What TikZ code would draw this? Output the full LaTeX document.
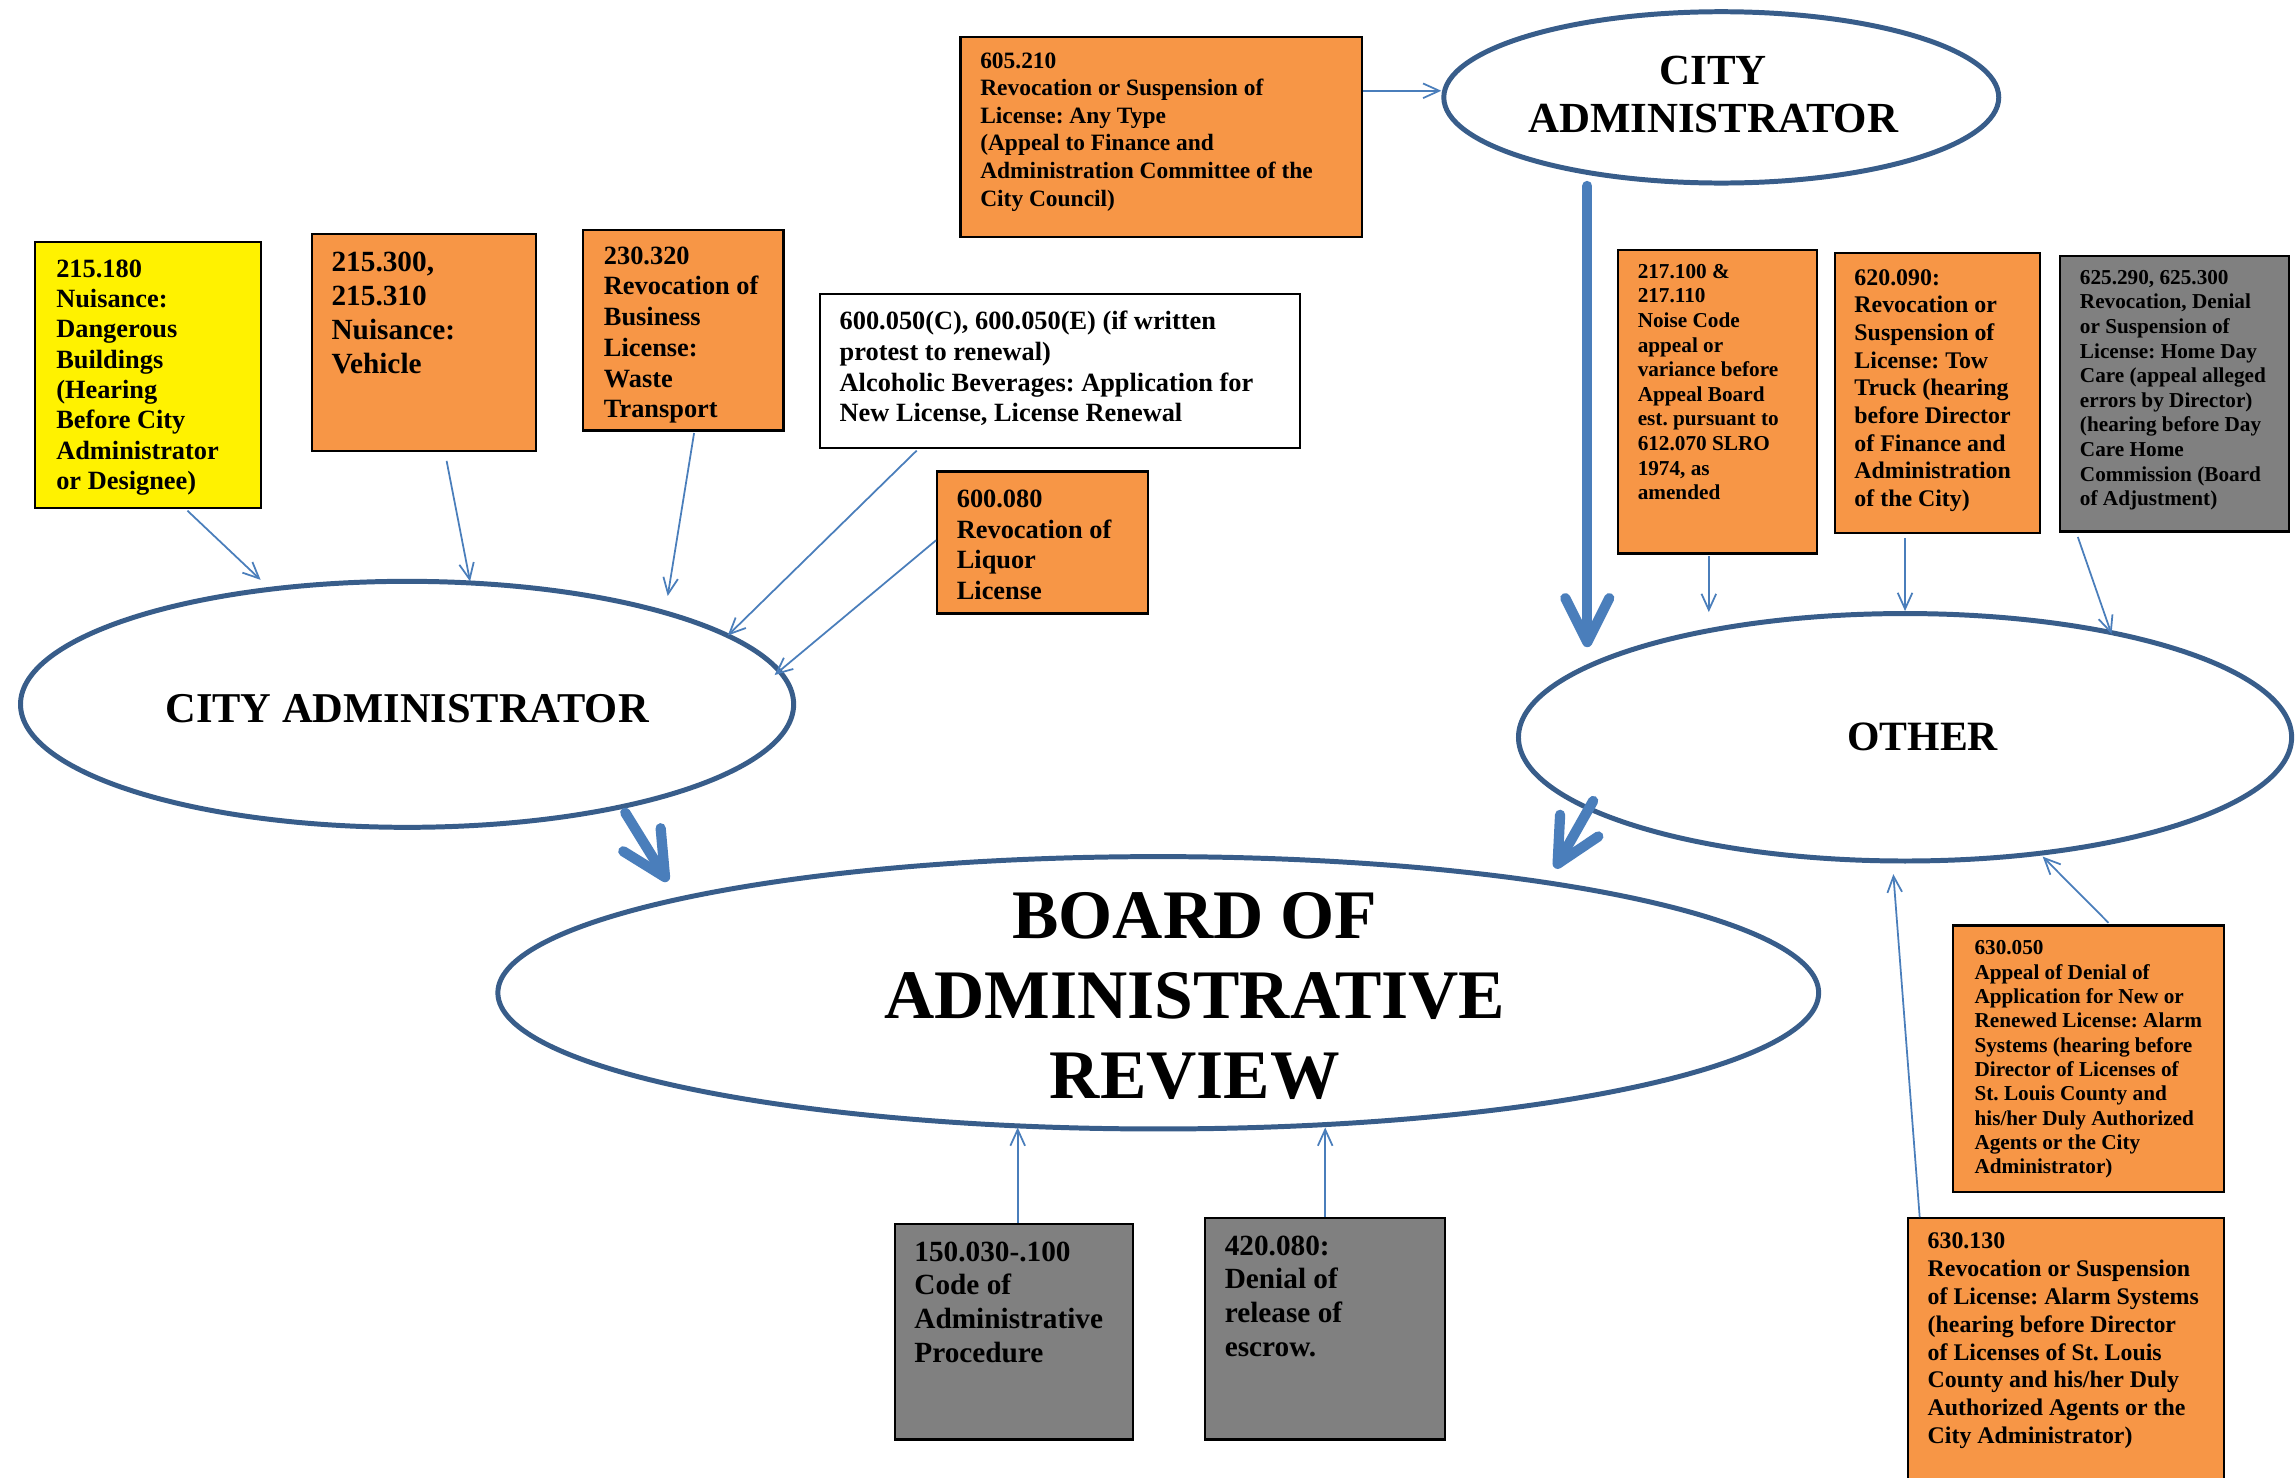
\documentclass[tikz,border=0pt]{standalone}
\usepackage{fontspec}
\setmainfont{Liberation Serif}
\usetikzlibrary{shapes.geometric,arrows.meta}
\definecolor{ellblue}{HTML}{385D8A}
\definecolor{arrblue}{HTML}{4A7EBB}
\definecolor{orangefill}{HTML}{F79646}
\definecolor{grayfill}{HTML}{808080}
\newcommand\myfs[2]{\fontsize{#1}{#2}\selectfont\bfseries\frenchspacing}
\begin{document}
\frenchspacing
\begin{tikzpicture}[x=1pt,y=-1pt,
  box/.style={draw=black,line width=1.5pt,inner sep=0pt,rectangle},
  txt/.style={anchor=north west,inner sep=0pt,align=left},
  ctxt/.style={anchor=center,inner sep=0pt,align=center},
  ell/.style={ellipse,draw=ellblue,line width=3.4pt,fill=white,inner sep=0pt},
  thinarr/.style={draw=arrblue,line width=1.2pt,-{Straight Barb[length=11pt,width=10pt]}},
  thickarr/.style={draw=arrblue,line width=7pt,line cap=round,-{Straight Barb[length=30pt,width=30pt,round]}}]
\useasboundingbox[fill=white] (0,0) rectangle (1568,1009);

% ellipses
\node[ell,minimum width=528pt,minimum height=168pt] (ca) at (278,481) {};
\node[ctxt,font=\myfs{29}{33}] (cat0) at ([shift={(0,3)}]ca.center) {CITY ADMINISTRATOR};
\node[ell,minimum width=379pt,minimum height=117pt] (cat) at (1175.5,66.5) {};
\node[ctxt,font=\myfs{29.3}{33}] (catt) at ([shift={(-5.5,-2)}]cat.center) {CITY\\ADMINISTRATOR};
\node[ell,minimum width=528pt,minimum height=169pt] (oth) at (1301,503.5) {};
\node[ctxt,font=\myfs{28.5}{33}] (otht) at ([shift={(12,0)}]oth.center) {OTHER};
\node[ell,minimum width=902pt,minimum height=186pt] (bar) at (791,678) {};
\node[ctxt,font=\myfs{47.5}{54.5}] (bart) at ([shift={(25,2)}]bar.center) {BOARD OF\\ADMINISTRATIVE\\REVIEW};

% boxes
\node[box,fill=yellow,minimum width=154pt,minimum height=182pt] (b1) at (101,256) {};
\node[txt,font=\myfs{18}{20.7}] (b1t) at ([shift={(15,13)}]b1.north west) {215.180\\Nuisance:\\Dangerous\\Buildings\\(Hearing\\Before City\\Administrator\\or Designee)};

\node[box,fill=orangefill,minimum width=153pt,minimum height=148pt] (b2) at (289.5,234) {};
\node[txt,font=\myfs{20}{23}] (b2t) at ([shift={(14,13)}]b2.north west) {215.300,\\215.310\\Nuisance:\\Vehicle};

\node[box,fill=orangefill,minimum width=137pt,minimum height=137pt] (b3) at (466.5,225.5) {};
\node[txt,font=\myfs{18}{21}] (b3t) at ([shift={(15,12)}]b3.north west) {230.320\\Revocation of\\Business\\License:\\Waste\\Transport};

\node[box,fill=white,minimum width=328pt,minimum height=105pt] (b4) at (724,253.5) {};
\node[txt,font=\myfs{18}{21}] (b4t) at ([shift={(14,12)}]b4.north west) {600.050(C), 600.050(E) (if written\\protest to renewal)\\Alcoholic Beverages: Application for\\New License, License Renewal};

\node[box,fill=orangefill,minimum width=144pt,minimum height=97pt] (b5) at (712,370.5) {};
\node[txt,font=\myfs{18}{21}] (b5t) at ([shift={(14,13)}]b5.north west) {600.080\\Revocation of\\Liquor\\License};

\node[box,fill=orangefill,minimum width=274pt,minimum height=137pt] (b6) at (793,93.5) {};
\node[txt,font=\myfs{16}{18.8}] (b6t) at ([shift={(14,11.6)}]b6.north west) {605.210\\Revocation or Suspension of\\License: Any Type\\(Appeal to Finance and\\Administration Committee of the\\City Council)};

\node[box,fill=orangefill,minimum width=136pt,minimum height=207pt] (b7) at (1173,274.5) {};
\node[txt,font=\myfs{14.5}{16.8}] (b7t) at ([shift={(14,10)}]b7.north west) {217.100 \&\\217.110\\Noise Code\\appeal or\\variance before\\Appeal Board\\est. pursuant to\\612.070 SLRO\\1974, as\\amended};

\node[box,fill=orangefill,minimum width=140pt,minimum height=191pt] (b8) at (1323,268.5) {};
\node[txt,font=\myfs{16.3}{18.9}] (b8t) at ([shift={(14,11.5)}]b8.north west) {620.090:\\Revocation or\\Suspension of\\License: Tow\\Truck (hearing\\before Director\\of Finance and\\Administration\\of the City)};

\node[box,fill=grayfill,minimum width=156pt,minimum height=188pt] (b9) at (1485,269) {};
\node[txt,font=\myfs{14.5}{16.8}] (b9t) at ([shift={(14,10)}]b9.north west) {625.290, 625.300\\Revocation, Denial\\or Suspension of\\License: Home Day\\Care (appeal alleged\\errors by Director)\\(hearing before Day\\Care Home\\Commission (Board\\of Adjustment)};

\node[box,fill=grayfill,minimum width=163pt,minimum height=147pt] (b10) at (692.5,909.5) {};
\node[txt,font=\myfs{20}{23}] (b10t) at ([shift={(14,12.5)}]b10.north west) {150.030-.100\\Code of\\Administrative\\Procedure};

\node[box,fill=grayfill,minimum width=164pt,minimum height=151pt] (b11) at (905,907.5) {};
\node[txt,font=\myfs{20}{23}] (b11t) at ([shift={(14,12.5)}]b11.north west) {420.080:\\Denial of\\release of\\escrow.};

\node[box,fill=orangefill,minimum width=185pt,minimum height=182pt] (b12) at (1426.5,723) {};
\node[txt,font=\myfs{14.5}{16.6}] (b12t) at ([shift={(15,11)}]b12.north west) {630.050\\Appeal of Denial of\\Application for New or\\Renewed License: Alarm\\Systems (hearing before\\Director of Licenses of\\St. Louis County and\\his/her Duly Authorized\\Agents or the City\\Administrator)};

\node[box,fill=orangefill,minimum width=216pt,minimum height=183pt] (b13) at (1411,923.5) {};
\node[txt,font=\myfs{16.3}{19}] (b13t) at ([shift={(14,10.5)}]b13.north west) {630.130\\Revocation or Suspension\\of License: Alarm Systems\\(hearing before Director\\of Licenses of St. Louis\\County and his/her Duly\\Authorized Agents or the\\City Administrator)};

% thin connectors
\draw[thinarr] ([shift={(27,1)}]b1.south) -- ([shift={(-100,-85)}]ca.center);
\draw[thinarr] ([shift={(15.5,6)}]b2.south) -- ([shift={(43,-84)}]ca.center);
\draw[thinarr] ([shift={(7.5,1)}]b3.south) -- ([shift={(178,-74)}]ca.center);
\draw[thinarr] ([shift={(-98,1)}]b4.south) -- ([shift={(219,-47)}]ca.center);
\draw[thinarr] ([shift={(0,-1.5)}]b5.west) -- ([shift={(251,-20)}]ca.center);
\draw[thinarr] ([shift={(0,-31.5)}]b6.east) -- ([shift={(0,-4.5)}]cat.west);
\draw[thinarr] ([shift={(-6,1)}]b7.south) -- ([shift={(-134,-85.5)}]oth.center);
\draw[thinarr] ([shift={(-22,3)}]b8.south) -- (oth.north);
\draw[thinarr] ([shift={(-66,3)}]b9.south) -- ([shift={(141,-70.5)}]oth.center);
\draw[thinarr] ([shift={(13.5,-1)}]b12.north) -- ([shift={(94,81.5)}]oth.center);
\draw[thinarr] ([shift={(-100,0)}]b13.north) -- ([shift={(-8,93.5)}]oth.center);
\draw[thinarr] ([shift={(2.5,0)}]b10.north) -- ([shift={(-96,92)}]bar.center);
\draw[thinarr] (b11.north) -- ([shift={(114,92)}]bar.center);

% thick connectors
\draw[thickarr] ([shift={(-91.5,60.5)}]cat.center) -- ([shift={(-217,-61.5)}]oth.center);
\draw[thickarr] ([shift={(149,74)}]ca.center) -- ([shift={(-335,-76)}]bar.center);
\draw[thickarr] ([shift={(-213,43.5)}]oth.center) -- ([shift={(271,-85)}]bar.center);
\end{tikzpicture}
\end{document}
